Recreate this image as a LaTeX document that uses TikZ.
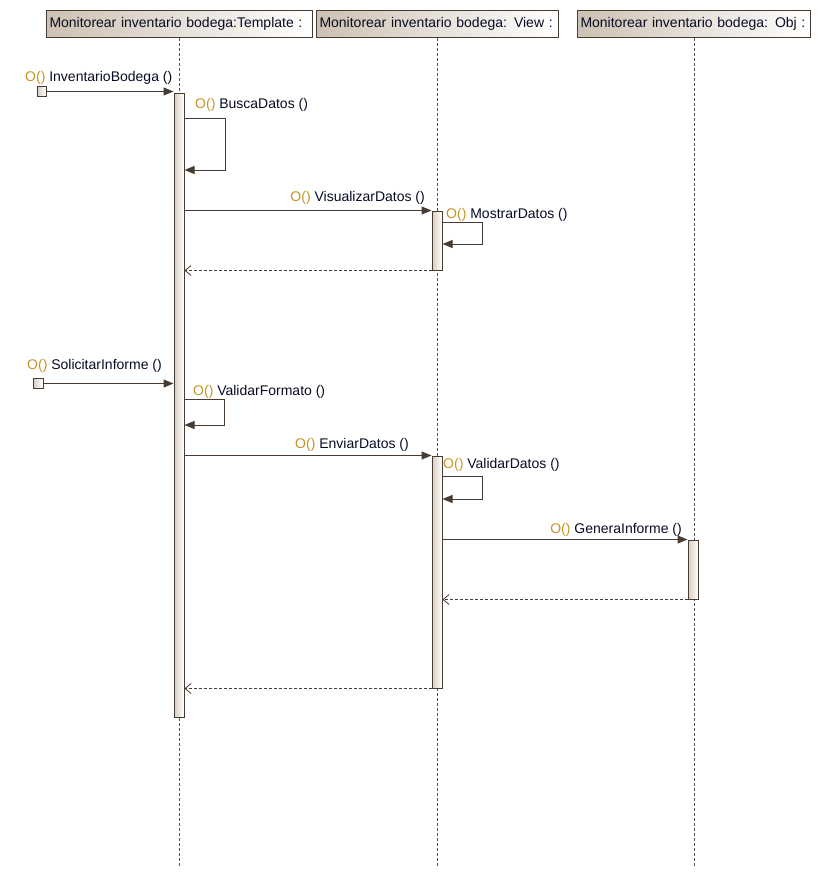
\documentclass[tikz,border=0pt]{standalone}
\usepackage{fontspec}
\setmainfont{Liberation Sans}
\usetikzlibrary{arrows.meta}

\definecolor{edge}{RGB}{72,60,50}
\definecolor{lifeink}{RGB}{90,80,70}
\definecolor{tanshade}{RGB}{204,193,178}
\definecolor{barshade}{RGB}{214,205,194}
\definecolor{opgold}{RGB}{196,148,36}
\definecolor{labelink}{RGB}{8,12,36}

\newcommand\opmark{{\color{opgold}O()}\ }

\tikzset{
  txt/.style={font=\fontsize{14}{16}\selectfont, text=labelink},
  head/.style={txt, draw=edge, line width=1pt, left color=tanshade, right color=white,
    inner xsep=3pt, inner ysep=0pt, minimum height=27pt, align=left, anchor=north west},
  life/.style={draw=lifeink, line width=0.8pt, dash pattern=on 3pt off 2pt},
  bar/.style={draw=edge, line width=1pt, left color=barshade, right color=white,
    minimum width=10pt, inner sep=0pt},
  origin/.style={draw=edge, line width=1pt, left color=barshade, right color=white,
    minimum width=9pt, minimum height=10pt, inner sep=0pt},
  call/.style={draw=edge, line width=1pt, -{Triangle[length=10pt,width=8pt]}},
  reply/.style={draw=edge, line width=0.8pt, dash pattern=on 3pt off 2pt,
    -{Straight Barb[length=6pt,width=10pt,line width=0.8pt]}},
  lbl/.style={txt, inner sep=0pt},
}

\begin{document}
\begin{tikzpicture}[x=1pt, y=-1pt]
  \fill[white] (0,0) rectangle (821,878);
  \useasboundingbox (0,0) rectangle (821,878);

  % object headers
  \node[head, text width=260pt] (thead) at (46,10) {Monitorear inventario bodega:Template :};
  \node[head, text width=236pt] (vhead) at (316,10) {Monitorear inventario bodega: View :};
  \node[head, text width=227pt] (ohead) at (577,10) {Monitorear inventario bodega: Obj :};

  % lifelines
  \coordinate (tend) at (thead.south |- 0,868);
  \coordinate (vend) at (vhead.south |- 0,868);
  \coordinate (oend) at (ohead.south |- 0,868);
  \draw[life] (thead.south) -- (tend);
  \draw[life] (vhead.south) -- (vend);
  \draw[life] (ohead.south) -- (oend);

  % activation bars
  \node[bar, minimum height=624pt] (tb) at (179,405) {};
  \node[bar, minimum height=59pt] (vb1) at (437,240.5) {};
  \node[bar, minimum height=232pt] (vb2) at (437,572) {};
  \node[bar, minimum height=59pt] (ob) at (693,569.5) {};

  % incoming calls from outside
  \node[origin] (src1) at (41.5,91.5) {};
  \node[origin, minimum width=10pt] (src2) at (38,383.5) {};

  % InventarioBodega
  \draw[call] (src1.east) -- (tb.west |- src1.east);
  \node[lbl, anchor=base west] (l1) at (25,81) {\opmark InventarioBodega ()};

  % BuscaDatos (self call)
  \draw[call] (tb.east |- 0,118) -| (225,170) -- (tb.east |- 0,170);
  \node[lbl, anchor=base west] (l2) at (195,108) {\opmark BuscaDatos ()};

  % VisualizarDatos
  \draw[call] (tb.east |- vb1.north) -- (vb1.north west);
  \node[lbl, anchor=base east] (l3) at (425,201) {\opmark VisualizarDatos ()};

  % MostrarDatos (self call)
  \draw[call] (vb1.east |- 0,222) -| (482,244) -- (vb1.east |- 0,244);
  \node[lbl, anchor=base west] (l4) at (446,218) {\opmark MostrarDatos ()};

  % reply to Template
  \draw[reply] (vb1.south west) -- (tb.east |- vb1.south);

  % SolicitarInforme
  \draw[call] (src2.east) -- (tb.west |- src2.east);
  \node[lbl, anchor=base west] (l5) at (27,369) {\opmark SolicitarInforme ()};

  % ValidarFormato (self call)
  \draw[call] (tb.east |- 0,399) -| (224,425) -- (tb.east |- 0,425);
  \node[lbl, anchor=base west] (l6) at (193,395) {\opmark ValidarFormato ()};

  % EnviarDatos
  \draw[call] (tb.east |- vb2.north) -- (vb2.north west);
  \node[lbl, anchor=base east] (l7) at (409,448) {\opmark EnviarDatos ()};

  % ValidarDatos (self call)
  \draw[call] (vb2.east |- 0,476) -| (482,499) -- (vb2.east |- 0,499);
  \node[lbl, anchor=base west] (l8) at (443,468) {\opmark ValidarDatos ()};

  % GeneraInforme
  \draw[call] (vb2.east |- ob.north) -- (ob.north west);
  \node[lbl, anchor=base east] (l9) at (682,533) {\opmark GeneraInforme ()};

  % replies
  \draw[reply] (ob.south west) -- (vb2.east |- ob.south);
  \draw[reply] (vb2.south west) -- (tb.east |- vb2.south);
\end{tikzpicture}
\end{document}
